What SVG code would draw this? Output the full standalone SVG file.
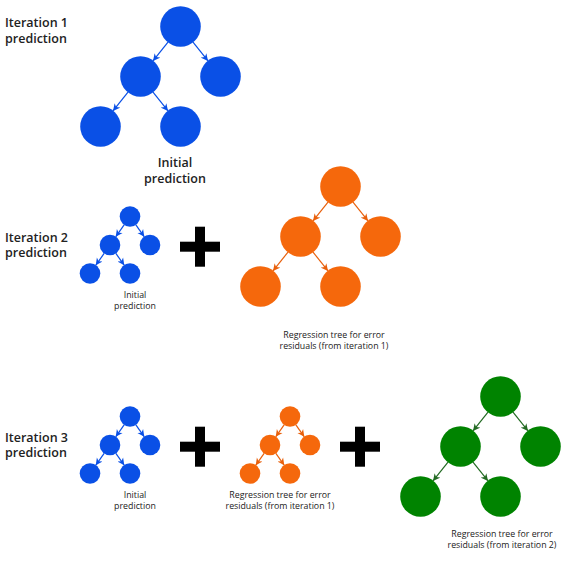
<svg xmlns="http://www.w3.org/2000/svg" width="571" height="570" viewBox="0 0 571 570">
<style>
.bl{fill:#0a50e6}
.or{fill:#f5680c}
.gr{fill:#008300}
.plus{fill:#000}
.lab{font-family:"Open Sans","Liberation Sans",sans-serif;font-size:12.5px;font-weight:600;fill:#222}
.sm{font-family:"Open Sans","Liberation Sans",sans-serif;font-size:8.8px;fill:#222;text-anchor:middle}
.eb{stroke:#0a50e6;stroke-width:1.2;fill:none;marker-end:url(#ab)}
.eo{stroke:#e8600c;stroke-width:1.2;fill:none;marker-end:url(#ao)}
.eg{stroke:#236b23;stroke-width:1.2;fill:none;marker-end:url(#ag)}
</style>
<defs>
<marker id="ab" viewBox="-7 -4 8 8" refX="0" refY="0" markerWidth="8" markerHeight="8" markerUnits="userSpaceOnUse" orient="auto"><path d="M0,0 L-7,-3.5 L-5,0 L-7,3.5 Z" fill="#0a50e6"/></marker>
<marker id="ao" viewBox="-7 -4 8 8" refX="0" refY="0" markerWidth="8" markerHeight="8" markerUnits="userSpaceOnUse" orient="auto"><path d="M0,0 L-7,-3.5 L-5,0 L-7,3.5 Z" fill="#e8600c"/></marker>
<marker id="ag" viewBox="-7 -4 8 8" refX="0" refY="0" markerWidth="8" markerHeight="8" markerUnits="userSpaceOnUse" orient="auto"><path d="M0,0 L-7,-3.5 L-5,0 L-7,3.5 Z" fill="#236b23"/></marker>
</defs>

<g id="labels">
<text class="lab" x="5" y="27">Iteration 1</text>
<text class="lab" x="5" y="43">prediction</text>
<text class="lab" x="5" y="241.7">Iteration 2</text>
<text class="lab" x="5" y="257.3">prediction</text>
<text class="lab" x="5" y="441.7">Iteration 3</text>
<text class="lab" x="5" y="457.3">prediction</text>
</g>

<g id="connectors">
<line class="eb" x1="168" y1="42.1" x2="153" y2="60.9"/>
<line class="eb" x1="193" y1="42.1" x2="208" y2="60.9"/>
<line class="eb" x1="128" y1="92.1" x2="113" y2="110.9"/>
<line class="eb" x1="153" y1="92.1" x2="168" y2="110.9"/>

<line class="eb" x1="124.3" y1="224.7" x2="115.7" y2="236.8"/>
<line class="eb" x1="135.7" y1="224.7" x2="144.3" y2="236.8"/>
<line class="eb" x1="104.3" y1="253.2" x2="95.7" y2="265.3"/>
<line class="eb" x1="115.7" y1="253.2" x2="124.3" y2="265.3"/>

<line class="eo" x1="328" y1="202.1" x2="313" y2="220.9"/>
<line class="eo" x1="353" y1="202.1" x2="368" y2="220.9"/>
<line class="eo" x1="288" y1="252.1" x2="273" y2="270.9"/>
<line class="eo" x1="313" y1="252.1" x2="328" y2="270.9"/>

<line class="eb" x1="124.3" y1="424.7" x2="115.7" y2="436.8"/>
<line class="eb" x1="135.7" y1="424.7" x2="144.3" y2="436.8"/>
<line class="eb" x1="104.3" y1="453.2" x2="95.7" y2="465.3"/>
<line class="eb" x1="115.7" y1="453.2" x2="124.3" y2="465.3"/>

<line class="eo" x1="284.3" y1="424.7" x2="275.7" y2="436.8"/>
<line class="eo" x1="295.7" y1="424.7" x2="304.3" y2="436.8"/>
<line class="eo" x1="264.3" y1="453.2" x2="255.7" y2="465.3"/>
<line class="eo" x1="275.7" y1="453.2" x2="284.3" y2="465.3"/>

<line class="eg" x1="488" y1="412.1" x2="473" y2="430.9"/>
<line class="eg" x1="513" y1="412.1" x2="528" y2="430.9"/>
<line class="eg" x1="448" y1="462.1" x2="433" y2="480.9"/>
<line class="eg" x1="473" y1="462.1" x2="488" y2="480.9"/>
</g>

<g id="tree1">
<circle id="t1-root" class="bl" cx="180.5" cy="26.5" r="20.3"/>
<circle id="t1-l" class="bl" cx="140.5" cy="76.5" r="20.3"/>
<circle id="t1-r" class="bl" cx="220.5" cy="76.5" r="20.3"/>
<circle id="t1-ll" class="bl" cx="100.5" cy="126.5" r="20.3"/>
<circle id="t1-lr" class="bl" cx="180.5" cy="126.5" r="20.3"/>
<text class="lab" x="175" y="167" text-anchor="middle">Initial</text>
<text class="lab" x="175" y="183" text-anchor="middle">prediction</text>
</g>

<g id="tree2-initial">
<circle class="bl" cx="130" cy="216.5" r="10.3"/>
<circle class="bl" cx="110" cy="245" r="10.3"/>
<circle class="bl" cx="150" cy="245" r="10.3"/>
<circle class="bl" cx="90" cy="273.5" r="10.3"/>
<circle class="bl" cx="130" cy="273.5" r="10.3"/>
<text class="sm" x="135" y="297.7">Initial</text>
<text class="sm" x="135" y="309.3">prediction</text>
</g>

<g id="plus1"><rect class="plus" x="180" y="241.7" width="40" height="10"/><rect class="plus" x="195" y="226.7" width="10" height="40"/></g>

<g id="tree2-residual">
<circle class="or" cx="340.5" cy="186.5" r="20.3"/>
<circle class="or" cx="300.5" cy="236.5" r="20.3"/>
<circle class="or" cx="380.5" cy="236.5" r="20.3"/>
<circle class="or" cx="260.5" cy="286.5" r="20.3"/>
<circle class="or" cx="340.5" cy="286.5" r="20.3"/>
<text class="sm" x="334" y="337.7">Regression tree for error</text>
<text class="sm" x="334" y="349.3">residuals (from iteration 1)</text>
</g>

<g id="tree3-initial">
<circle class="bl" cx="130" cy="416.5" r="10.3"/>
<circle class="bl" cx="110" cy="445" r="10.3"/>
<circle class="bl" cx="150" cy="445" r="10.3"/>
<circle class="bl" cx="90" cy="473.5" r="10.3"/>
<circle class="bl" cx="130" cy="473.5" r="10.3"/>
<text class="sm" x="135" y="497.7">Initial</text>
<text class="sm" x="135" y="509.3">prediction</text>
</g>

<g id="plus2"><rect class="plus" x="180" y="441.7" width="40" height="10"/><rect class="plus" x="195" y="426.7" width="10" height="40"/></g>

<g id="tree3-residual1">
<circle class="or" cx="290" cy="416.5" r="10.3"/>
<circle class="or" cx="270" cy="445" r="10.3"/>
<circle class="or" cx="310" cy="445" r="10.3"/>
<circle class="or" cx="250" cy="473.5" r="10.3"/>
<circle class="or" cx="290" cy="473.5" r="10.3"/>
<text class="sm" x="280" y="497.7">Regression tree for error</text>
<text class="sm" x="280" y="509.3">residuals (from iteration 1)</text>
</g>

<g id="plus3"><rect class="plus" x="340" y="441.7" width="40" height="10"/><rect class="plus" x="355" y="426.7" width="10" height="40"/></g>

<g id="tree3-residual2">
<circle class="gr" cx="500.5" cy="396.5" r="20.3"/>
<circle class="gr" cx="460.5" cy="446.5" r="20.3"/>
<circle class="gr" cx="540.5" cy="446.5" r="20.3"/>
<circle class="gr" cx="420.5" cy="496.5" r="20.3"/>
<circle class="gr" cx="500.5" cy="496.5" r="20.3"/>
<text class="sm" x="502" y="536.7">Regression tree for error</text>
<text class="sm" x="502" y="548.3">residuals (from iteration 2)</text>
</g>
</svg>
